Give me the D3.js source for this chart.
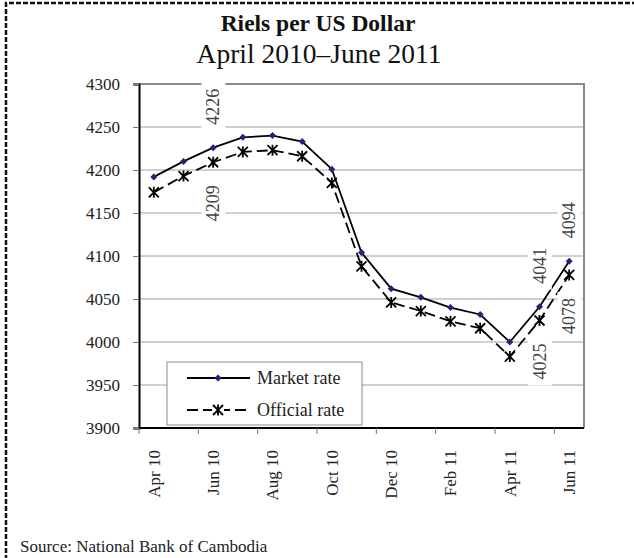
<!DOCTYPE html>
<html><head><meta charset="utf-8">
<script src="https://cdn.jsdelivr.net/npm/d3@7"></script>
<style>
html,body{margin:0;padding:0;background:#fff;}
svg{display:block;font-family:"Liberation Serif","Times New Roman",serif;}
</style></head>
<body>
<svg id="chart" width="634" height="558"></svg>
<script>
const months = ["Apr 10","May 10","Jun 10","Jul 10","Aug 10","Sep 10","Oct 10","Nov 10","Dec 10","Jan 11","Feb 11","Mar 11","Apr 11","May 11","Jun 11"];
const marketRate = [4192,4210,4226,4238,4240,4233,4201,4104,4062,4052,4040,4032,4000,4041,4094];
const officialRate = [4174,4193,4209,4221,4223,4216,4185,4088,4046,4036,4024,4016,3983,4025,4078];
const yTicks = [3900,3950,4000,4050,4100,4150,4200,4250,4300];
// data labels: [series, index, position]
const dataLabels = [["market",2,"above"],["official",2,"below"],["market",13,"above"],["official",13,"below"],["market",14,"above"],["official",14,"below"]];

const svg = d3.select("#chart");
const pL = 139, pR = 584, pT = 84, pB = 428;

const x = d3.scaleBand().domain(months).range([pL, pR]).padding(0);
const y = d3.scaleLinear().domain([3900, 4300]).range([pB, pT]);
const cx = m => x(m) + x.bandwidth() / 2;

// outer dashed frame
svg.append("path").attr("d", `M6,560 L6,3 L640,3`).attr("fill","none")
  .attr("stroke","#111").attr("stroke-width",2.5).attr("stroke-dasharray","5,2");

// titles
svg.append("text").attr("x",318).attr("y",31).attr("text-anchor","middle")
  .attr("font-weight","bold").attr("font-size",23.5).attr("fill","#111").text("Riels per US Dollar");
svg.append("text").attr("x",319).attr("y",63).attr("text-anchor","middle")
  .attr("font-size",27.5).attr("fill","#111").text("April 2010\u2013June 2011");

// gridlines
svg.append("g").selectAll("line").data(yTicks.filter(d => d > 3900 && d < 4300)).join("line")
  .attr("x1",pL).attr("x2",pR).attr("y1",d=>y(d)).attr("y2",d=>y(d))
  .attr("stroke","#a0a0a0").attr("stroke-width",1);

// plot border top & right (gray)
svg.append("path").attr("d",`M${pL},${y(4300)} L${pR},${y(4300)} L${pR},${pB}`)
  .attr("fill","none").attr("stroke","#8a8a8a").attr("stroke-width",2);

// y axis
const yAxis = d3.axisLeft(y).tickValues(yTicks).tickSize(6).tickPadding(13).tickFormat(d3.format("d"));
const gy = svg.append("g").attr("transform",`translate(${pL},0)`).call(yAxis)
  .attr("font-family","Liberation Serif, serif").attr("font-size",17);
gy.select(".domain").attr("stroke","#000").attr("stroke-width",2);
gy.selectAll(".tick line").attr("stroke","#777");
gy.selectAll(".tick text").attr("fill","#222");

// x axis: ticks at every second category boundary, labels every second category
const tickIdx = d3.range(0, months.length, 2);
const gx = svg.append("g");
gx.append("line").attr("x1",pL).attr("x2",pR).attr("y1",pB).attr("y2",pB)
  .attr("stroke","#000").attr("stroke-width",2);
gx.selectAll("line.tk").data(tickIdx).join("line").attr("class","tk")
  .attr("x1",i=>x(months[i])).attr("x2",i=>x(months[i]))
  .attr("y1",pB).attr("y2",pB+6).attr("stroke","#777");
gx.selectAll("text").data(tickIdx).join("text")
  .attr("transform",i=>`translate(${cx(months[i])},450) rotate(-90)`)
  .attr("text-anchor","end").attr("dy","0.35em").attr("font-size",17).attr("fill","#222")
  .text(i=>months[i]);

// lines
const lineGen = vals => d3.line().x((d,i)=>cx(months[i])).y(d=>y(d))(vals);
svg.append("path").attr("d",lineGen(officialRate)).attr("fill","none")
  .attr("stroke","#000").attr("stroke-width",1.8).attr("stroke-dasharray","11,5");
svg.append("path").attr("d",lineGen(marketRate)).attr("fill","none")
  .attr("stroke","#000").attr("stroke-width",1.8);

// markers
function asterisk(g, s){
  g.append("path").attr("d",`M${-s},${-s}L${s},${s}M${-s},${s}L${s},${-s}M0,${-s*1.1}L0,${s*1.1}`)
   .attr("stroke","#000").attr("stroke-width",1.8).attr("fill","none");
}
function diamond(g, s){
  g.append("path").attr("d",`M0,${-s}L${s},0L0,${s}L${-s},0Z`).attr("fill","#23237a");
}
svg.append("g").selectAll("g").data(officialRate).join("g")
  .attr("transform",(d,i)=>`translate(${cx(months[i])},${y(d)})`)
  .each(function(){ asterisk(d3.select(this),5); });
svg.append("g").selectAll("g").data(marketRate).join("g")
  .attr("transform",(d,i)=>`translate(${cx(months[i])},${y(d)})`)
  .each(function(){ diamond(d3.select(this),3.5); });

// data labels (rotated, white background)
const lg = svg.append("g");
dataLabels.forEach(([s,i,pos])=>{
  const v = s==="market" ? marketRate[i] : officialRate[i];
  const px = cx(months[i]), py = y(v);
  const g = lg.append("g").attr("transform",`translate(${px},${py}) rotate(-90)`);
  const off = 23;
  const t = g.append("text")
    .attr("font-size",18).attr("fill","#444").attr("dy","0.35em")
    .attr("text-anchor", pos==="above" ? "start" : "end")
    .attr("x", pos==="above" ? off : -off).text(v);
  const b = t.node().getBBox();
  g.insert("rect","text").attr("x",b.x-6).attr("y",b.y-2).attr("width",b.width+12).attr("height",b.height+4)
    .attr("fill","#fff");
});

// legend
const leg = svg.append("g");
leg.append("rect").attr("x",167).attr("y",362).attr("width",195).attr("height",63)
  .attr("fill","#fff").attr("stroke","#8a8a8a").attr("stroke-width",1);
const legItems = [{name:"Market rate",y:378,dash:null,m:diamond},{name:"Official rate",y:410,dash:"11,5",m:asterisk}];
legItems.forEach(it=>{
  leg.append("line").attr("x1",187).attr("x2",250).attr("y1",it.y).attr("y2",it.y)
    .attr("stroke","#000").attr("stroke-width",1.8).attr("stroke-dasharray",it.dash);
  const mg = leg.append("g").attr("transform",`translate(218,${it.y})`);
  if (it.m===diamond) diamond(mg,3.5); else { mg.append("rect").attr("x",-6).attr("y",-6).attr("width",12).attr("height",12).attr("fill","#fff"); asterisk(mg,5); }
  leg.append("text").attr("x",257).attr("y",it.y).attr("dy","0.35em").attr("font-size",18).attr("fill","#222").text(it.name);
});

// source
svg.append("text").attr("x",20).attr("y",552).attr("font-size",17).attr("fill","#222")
  .text("Source: National Bank of Cambodia");
</script>
</body></html>
